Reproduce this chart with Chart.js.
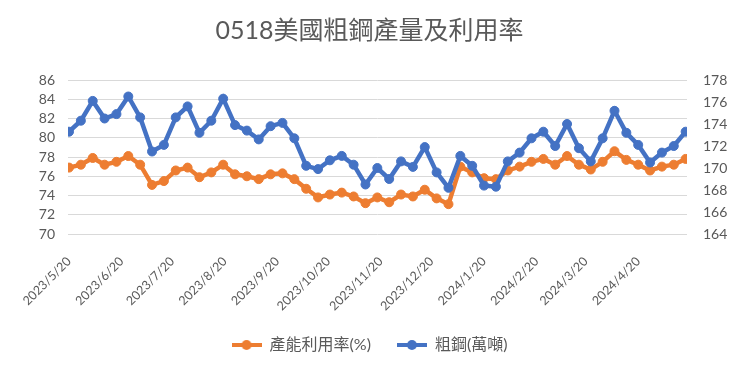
<!DOCTYPE html>
<html>
<head>
<meta charset="utf-8">
<script src="https://cdn.jsdelivr.net/npm/chart.js@4.4.0/dist/chart.umd.min.js"></script>
<style>
  html, body { margin: 0; padding: 0; background: #fff; }
  #wrap { width: 739px; height: 370px; }
</style>
</head>
<body>
<div id="wrap"><canvas id="chart"></canvas></div>
<script>
// weekly dates (x categories)
const weeks = [
  '2023/5/20', '2023/5/27', '2023/6/3', '2023/6/10', '2023/6/17', '2023/6/24',
  '2023/7/1', '2023/7/8', '2023/7/15', '2023/7/22', '2023/7/29',
  '2023/8/5', '2023/8/12', '2023/8/19', '2023/8/26',
  '2023/9/2', '2023/9/9', '2023/9/16', '2023/9/23', '2023/9/30',
  '2023/10/7', '2023/10/14', '2023/10/21', '2023/10/28',
  '2023/11/4', '2023/11/11', '2023/11/18', '2023/11/25',
  '2023/12/2', '2023/12/9', '2023/12/16', '2023/12/23', '2023/12/30',
  '2024/1/6', '2024/1/13', '2024/1/20', '2024/1/27',
  '2024/2/3', '2024/2/10', '2024/2/17', '2024/2/24',
  '2024/3/2', '2024/3/9', '2024/3/16', '2024/3/23', '2024/3/30',
  '2024/4/6', '2024/4/13', '2024/4/20', '2024/4/27',
  '2024/5/4', '2024/5/11', '2024/5/18'
];

// 產能利用率(%) - left axis
const utilization = [
  76.9, 77.2, 77.9, 77.2, 77.5, 78.1, 77.2, 75.1, 75.5, 76.6, 76.9,
  75.9, 76.4, 77.2, 76.2, 76.0, 75.7, 76.2, 76.3, 75.7, 74.7, 73.8,
  74.1, 74.3, 73.9, 73.2, 73.8, 73.3, 74.1, 73.9, 74.6, 73.7, 73.1,
  77.0, 76.4, 75.8, 75.7, 76.6, 77.0, 77.5, 77.8, 77.2, 78.1, 77.2,
  76.7, 77.5, 78.6, 77.7, 77.2, 76.6, 77.0, 77.2, 77.8
];

// 粗鋼(萬噸) - right axis
const output = [
  173.3, 174.3, 176.1, 174.5, 174.9, 176.5, 174.6, 171.5, 172.1, 174.6, 175.6,
  173.2, 174.3, 176.3, 173.9, 173.4, 172.6, 173.8, 174.1, 172.7, 170.2, 169.9,
  170.7, 171.1, 170.3, 168.5, 170.0, 169.0, 170.6, 170.1, 171.9, 169.6, 168.2,
  171.1, 170.2, 168.4, 168.3, 170.6, 171.4, 172.7, 173.3, 172.0, 174.0, 171.8,
  170.6, 172.7, 175.2, 173.2, 172.1, 170.5, 171.4, 172.0, 173.3
];

// monthly axis labels
const tickLabels = [
  '2023/5/20', '2023/6/20', '2023/7/20', '2023/8/20', '2023/9/20', '2023/10/20',
  '2023/11/20', '2023/12/20', '2024/1/20', '2024/2/20', '2024/3/20', '2024/4/20'
];

const ORANGE = '#ED7D31';
const BLUE = '#4472C4';
const TEXT = '#595959';
const GRID = '#D9D9D9';
const FONT = "Lato, 'Noto Sans CJK TC', sans-serif";

function dayNum(s) {
  const [y, m, d] = s.split('/').map(Number);
  return Date.UTC(y, m - 1, d) / 86400000;
}
const base = dayNum(weeks[0]);
const toX = s => dayNum(s) - base;

function legendIcon(color) {
  const c = document.createElement('canvas');
  c.width = 30; c.height = 12;
  const g = c.getContext('2d');
  g.strokeStyle = color;
  g.lineWidth = 4;
  g.beginPath(); g.moveTo(0, 6); g.lineTo(30, 6); g.stroke();
  g.fillStyle = color;
  g.beginPath(); g.arc(15, 6, 5, 0, Math.PI * 2); g.fill();
  return c;
}
const icons = [legendIcon(ORANGE), legendIcon(BLUE)];

new Chart(document.getElementById('chart'), {
  type: 'line',
  data: {
    datasets: [{
      label: '產能利用率(%)',
      data: weeks.map((w, i) => ({ x: toX(w), y: utilization[i] })),
      borderColor: ORANGE,
      backgroundColor: ORANGE,
      pointBackgroundColor: ORANGE,
      pointBorderColor: ORANGE,
      borderWidth: 4.5,
      pointRadius: 4.5,
      pointBorderWidth: 1,
      yAxisID: 'y',
      order: 1
    }, {
      label: '粗鋼(萬噸)',
      data: weeks.map((w, i) => ({ x: toX(w), y: output[i] })),
      borderColor: BLUE,
      backgroundColor: BLUE,
      pointBackgroundColor: BLUE,
      pointBorderColor: BLUE,
      borderWidth: 4.5,
      pointRadius: 4.5,
      pointBorderWidth: 1,
      yAxisID: 'y1',
      order: 0
    }]
  },
  options: {
    responsive: true,
    maintainAspectRatio: false,
    animation: false,
    layout: { padding: { top: 2, left: 0, right: 0, bottom: 7 } },
    scales: {
      x: {
        type: 'linear',
        min: -0.6,
        max: toX(weeks[weeks.length - 1]) + 0.8,
        afterBuildTicks: axis => {
          axis.ticks = tickLabels.map(t => ({ value: toX(t) }));
        },
        afterFit: s => {
          s.paddingLeft = 0;
          s.paddingRight = 0;
          s.height = 77;
          // labels may run below the fixed box, so don't clip them
          s._computeLabelArea = () => undefined;
        },
        ticks: {
          autoSkip: false,
          minRotation: 45,
          maxRotation: 45,
          color: TEXT,
          font: { family: FONT, size: 12.5 },
          padding: 12,
          callback: (v, i) => tickLabels[i]
        },
        grid: { display: false },
        border: { display: false }
      },
      y: {
        position: 'left',
        min: 70,
        max: 86,
        afterFit: s => { s.width = 68; },
        ticks: { stepSize: 2, autoSkip: false, color: TEXT, font: { family: FONT, size: 14 }, padding: 13 },
        grid: { color: GRID, lineWidth: 1, drawTicks: false },
        border: { display: false }
      },
      y1: {
        position: 'right',
        min: 164,
        max: 178,
        afterFit: s => { s.width = 52; },
        ticks: { stepSize: 2, autoSkip: false, color: TEXT, font: { family: FONT, size: 14 }, padding: 16 },
        grid: { drawOnChartArea: false, drawTicks: false },
        border: { display: false }
      }
    },
    plugins: {
      title: {
        display: true,
        text: '0518美國粗鋼產量及利用率',
        color: TEXT,
        font: { family: FONT, size: 25, weight: 'normal' },
        padding: { top: 14, bottom: 34 }
      },
      legend: {
        position: 'bottom',
        labels: {
          color: TEXT,
          font: { family: FONT, size: 16 },
          usePointStyle: true,
          pointStyleWidth: 30,
          boxHeight: 12,
          padding: 26,
          sort: (a, b) => a.datasetIndex - b.datasetIndex,
          generateLabels: chart => {
            const items = Chart.defaults.plugins.legend.labels.generateLabels(chart);
            items.forEach(it => { it.pointStyle = icons[it.datasetIndex]; it.fontColor = TEXT; });
            return items;
          }
        }
      },
      tooltip: { enabled: false }
    }
  }
});
</script>
</body>
</html>
